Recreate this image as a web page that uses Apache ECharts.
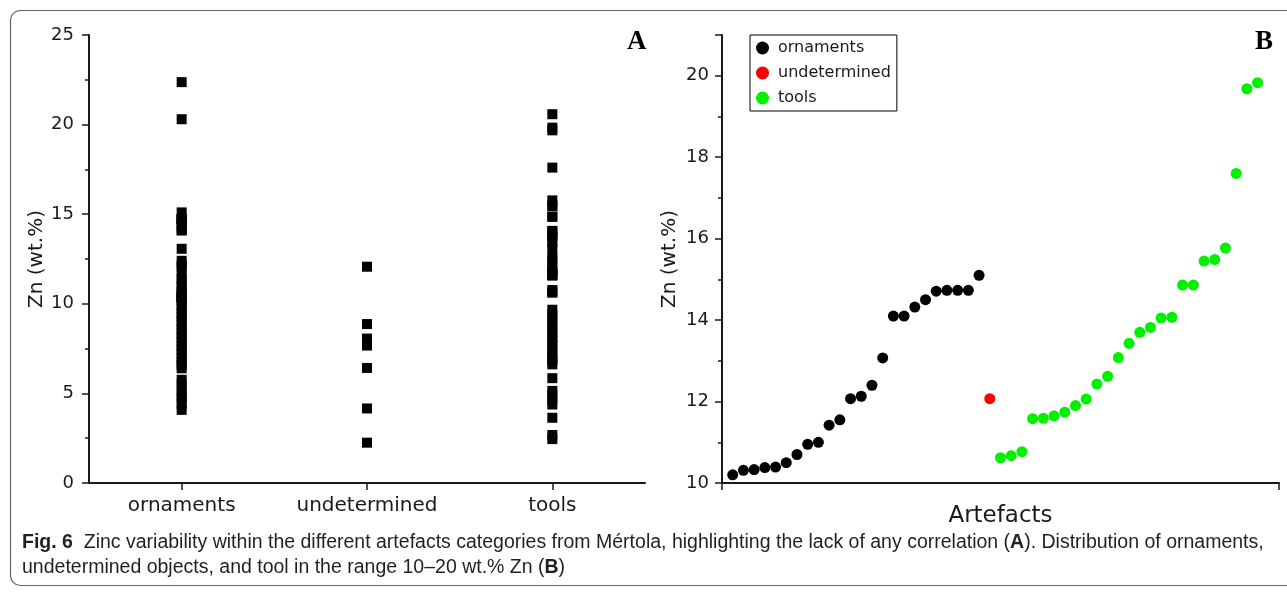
<!DOCTYPE html>
<html>
<head>
<meta charset="UTF-8">
<title>Fig. 6</title>
<script src="https://cdn.jsdelivr.net/npm/echarts@6/dist/echarts.min.js"></script>
<style>
  * { margin: 0; padding: 0; }
  body { background: #fff; }
  #main { width: 1287px; height: 592px; }
</style>
</head>
<body>
<div id="main"></div>
<script>
// panel A: Zn wt.% per category (all artefacts)
var categories = ['ornaments', 'undetermined', 'tools'];

// panel B: artefacts between 10 and 20 wt.% Zn, sorted
var ornB = [10.20, 10.31, 10.33, 10.38, 10.39, 10.50, 10.70, 10.95, 11.00, 11.42, 11.55, 12.07,
            12.13, 12.40, 13.07, 14.10, 14.10, 14.32, 14.50, 14.71, 14.73, 14.73, 14.73, 15.10];
var undB = [12.07];
var toolB = [10.62, 10.67, 10.77, 11.58, 11.59, 11.65, 11.74, 11.90, 12.06, 12.43, 12.62, 13.08, 13.43,
             13.70, 13.82, 14.05, 14.07, 14.86, 14.86, 15.45, 15.49, 15.77, 17.60, 19.68, 19.83];

// values outside 10-20 only shown in panel A
var ornOther = [22.37, 20.30, 9.92, 9.71, 9.45, 9.28, 9.02, 8.81, 8.55, 8.33, 8.12, 7.90, 7.64, 7.47,
                7.21, 6.98, 6.77, 6.58, 6.40, 5.76, 5.52, 5.20, 4.93, 4.71, 4.42, 4.08];
var undOther = [8.87, 8.06, 7.67, 6.42, 4.16, 2.25];
var toolOther = [20.58, 9.67, 9.41, 9.18, 8.90, 8.66, 8.42, 8.15, 7.93, 7.70, 7.44, 7.19, 6.95, 6.80,
                 6.62, 5.85, 5.14, 4.90, 4.62, 4.38, 3.64, 2.68, 2.45];

var yTicksA = [0, 5, 10, 15, 20, 25];
var yTicksB = [10, 12, 14, 16, 18, 20];

var FONT = 'DejaVu Sans';
var INK = '#1a1a1a';

function catPoints(cat, a, b) {
  return a.concat(b).map(function (v) { return [cat, v]; });
}

// panel B x positions: artefact rank 1..50
var xb = 0;
function rankPoints(vals) {
  return vals.map(function (v) { xb++; return [xb, v]; });
}
var ornPts = rankPoints(ornB);
var undPts = rankPoints(undB);
var toolPts = rankPoints(toolB);

var axisLine = { show: true, onZero: false, lineStyle: { color: INK, width: 2 } };
var tick = { show: true, length: 7, lineStyle: { color: INK, width: 1.5 } };
var minor = { show: true, splitNumber: 2, length: 4, lineStyle: { color: INK, width: 1.5 } };

var chart = echarts.init(document.getElementById('main'));
chart.setOption({
  animation: false,
  textStyle: { fontFamily: FONT },
  grid: [
    { left: 89, top: 35, width: 556, height: 448 },
    { left: 722, top: 35, width: 557, height: 448 }
  ],
  xAxis: [{
    gridIndex: 0,
    type: 'category',
    data: categories,
    boundaryGap: true,
    axisLine: axisLine,
    axisTick: { show: true, alignWithLabel: true, length: 7, lineStyle: tick.lineStyle },
    axisLabel: { color: INK, fontSize: 20, margin: 13 },
    splitLine: { show: false }
  }, {
    gridIndex: 1,
    type: 'value',
    min: 0, max: 52, interval: 52,
    name: 'Artefacts',
    nameLocation: 'middle',
    nameGap: 22,
    nameTextStyle: { color: INK, fontSize: 23 },
    axisLine: axisLine,
    axisTick: tick,
    axisLabel: { show: false },
    splitLine: { show: false }
  }],
  yAxis: [{
    gridIndex: 0,
    type: 'value',
    min: yTicksA[0], max: yTicksA[yTicksA.length - 1], interval: 5,
    name: 'Zn (wt.%)',
    nameLocation: 'middle',
    nameGap: 39,
    nameTextStyle: { color: INK, fontSize: 20 },
    axisLine: axisLine,
    axisTick: tick,
    minorTick: minor,
    axisLabel: { color: INK, fontSize: 18, margin: 15 },
    splitLine: { show: false }
  }, {
    gridIndex: 1,
    type: 'value',
    min: 10, max: 21, interval: 2,
    name: 'Zn (wt.%)',
    nameLocation: 'middle',
    nameGap: 42,
    nameTextStyle: { color: INK, fontSize: 20 },
    axisLine: axisLine,
    axisTick: tick,
    minorTick: minor,
    axisLabel: {
      color: INK, fontSize: 18, margin: 13,
      formatter: function (v) { return yTicksB.indexOf(v) >= 0 ? v : ''; }
    },
    splitLine: { show: false }
  }],
  legend: {
    left: 750, top: 35,
    orient: 'vertical',
    data: ['ornaments', 'undetermined', 'tools'],
    selectedMode: false,
    icon: 'circle',
    itemWidth: 13, itemHeight: 13,
    itemGap: 9,
    padding: [5, 6, 5, 6],
    borderColor: '#000', borderWidth: 1, borderRadius: 0,
    textStyle: { color: INK, fontSize: 16, lineHeight: 13, padding: [0, 0, 0, 4] }
  },
  series: [
    { name: 'A ornaments', type: 'scatter', xAxisIndex: 0, yAxisIndex: 0, symbol: 'rect', symbolSize: 10,
      itemStyle: { color: '#000', opacity: 1 }, data: catPoints('ornaments', ornB, ornOther) },
    { name: 'A undetermined', type: 'scatter', xAxisIndex: 0, yAxisIndex: 0, symbol: 'rect', symbolSize: 10,
      itemStyle: { color: '#000', opacity: 1 }, data: catPoints('undetermined', undB, undOther) },
    { name: 'A tools', type: 'scatter', xAxisIndex: 0, yAxisIndex: 0, symbol: 'rect', symbolSize: 10,
      itemStyle: { color: '#000', opacity: 1 }, data: catPoints('tools', toolB, toolOther) },
    { name: 'ornaments', type: 'scatter', xAxisIndex: 1, yAxisIndex: 1, symbolSize: 11,
      itemStyle: { color: '#000', opacity: 1 }, data: ornPts },
    { name: 'undetermined', type: 'scatter', xAxisIndex: 1, yAxisIndex: 1, symbolSize: 11,
      itemStyle: { color: '#ff0000', opacity: 1 }, data: undPts },
    { name: 'tools', type: 'scatter', xAxisIndex: 1, yAxisIndex: 1, symbolSize: 11,
      itemStyle: { color: '#00f000', opacity: 1 }, data: toolPts }
  ],
  graphic: [
    { type: 'rect', silent: true, z: -1,
      shape: { x: 10.5, y: 10.5, width: 1300, height: 575, r: 10 },
      style: { fill: 'none', stroke: '#666', lineWidth: 1.2 } },
    { type: 'text', left: 627, top: 29,
      style: { text: 'A', fontFamily: 'Liberation Serif', fontWeight: 'bold', fontSize: 27, fill: '#000' } },
    { type: 'text', left: 1255, top: 29,
      style: { text: 'B', fontFamily: 'Liberation Serif', fontWeight: 'bold', fontSize: 27, fill: '#000' } },
    { type: 'text', left: 22, top: 530,
      style: {
        text: '{b|Fig. 6}  Zinc variability within the different artefacts categories from Mértola, highlighting the lack of any correlation ({b|A}). Distribution of ornaments,\nundetermined objects, and tool in the range 10–20 wt.% Zn ({b|B})',
        fontFamily: 'Liberation Sans', fontSize: 19.5, lineHeight: 25, fill: '#231f20',
        rich: { b: { fontFamily: 'Liberation Sans', fontSize: 19.5, fontWeight: 'bold', fill: '#231f20' } }
      } }
  ]
});
</script>
</body>
</html>
